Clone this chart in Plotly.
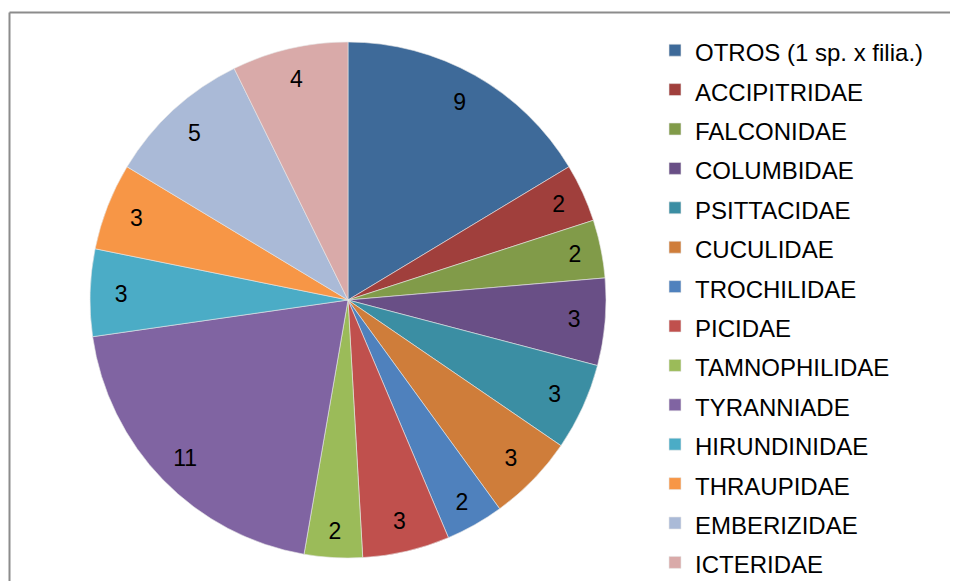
import plotly.graph_objects as go

families = ["OTROS (1 sp. x filia.)", "ACCIPITRIDAE", "FALCONIDAE", "COLUMBIDAE",
            "PSITTACIDAE", "CUCULIDAE", "TROCHILIDAE", "PICIDAE", "TAMNOPHILIDAE",
            "TYRANNIADE", "HIRUNDINIDAE", "THRAUPIDAE", "EMBERIZIDAE", "ICTERIDAE"]
counts = [9, 2, 2, 3, 3, 3, 2, 3, 2, 11, 3, 3, 5, 4]
colors = ["#3E6A99", "#A03F3C", "#819B49", "#694F86", "#3B8EA3", "#CF7D3A",
          "#4F81BD", "#C0504D", "#9BBB59", "#8064A2", "#4BACC6", "#F79646",
          "#AABAD7", "#D9AAA9"]

# the page body adds an 8px margin, so the figure is 8px smaller and all
# positions are given relative to that offset
OFF = 8
W, H = 958 - OFF, 581 - OFF
cx, cy, R = 348 - OFF, 300 - OFF, 258
dom = dict(x=[(cx - R) / W, (cx + R) / W],
           y=[(H - cy - R) / H, (H - cy + R) / H])
FONT = "Liberation Sans, Arial, sans-serif"

legend_labels = [f"<span style='font-size:24px'>{f}</span>" for f in families]

fig = go.Figure()
# coloured slices + legend
fig.add_trace(go.Pie(
    labels=legend_labels,
    values=counts,
    sort=False,
    direction="clockwise",
    rotation=0,
    marker=dict(colors=colors, line=dict(color="#E8E8E8", width=0.6)),
    textinfo="none",
    domain=dom,
    hoverinfo="label+value",
))
# value labels, placed in an outer ring (transparent) like the original
fig.add_trace(go.Pie(
    labels=families,
    values=counts,
    sort=False,
    direction="clockwise",
    rotation=0,
    hole=0.76,
    marker=dict(colors=["rgba(0,0,0,0)"] * len(counts), line=dict(width=0)),
    textinfo="value",
    textposition="inside",
    insidetextorientation="horizontal",
    textfont=dict(family=FONT, size=23, color="black"),
    domain=dom,
    showlegend=False,
    hoverinfo="skip",
))

fig.update_layout(
    width=W, height=H,
    margin=dict(l=0, r=0, t=0, b=0, autoexpand=False),
    paper_bgcolor="white",
    font=dict(family=FONT, color="black"),
    showlegend=True,
    legend=dict(
        x=(669 - OFF - 14) / W, xanchor="left",
        y=1 - (25.5 - OFF) / H, yanchor="top",
        font=dict(size=28, color="black"),
        bgcolor="rgba(0,0,0,0)",
        traceorder="normal",
    ),
    shapes=[
        dict(type="line", xref="paper", yref="paper",
             x0=(9.5 - OFF) / W, x1=1.05, y0=1 - (12.5 - OFF) / H, y1=1 - (12.5 - OFF) / H,
             line=dict(color="#8C8C8C", width=2)),
        dict(type="line", xref="paper", yref="paper",
             x0=(9.5 - OFF) / W, x1=(9.5 - OFF) / W, y0=-0.05, y1=1 - (12.5 - OFF) / H,
             line=dict(color="#8C8C8C", width=2)),
    ],
)

fig.write_html("out.html")
